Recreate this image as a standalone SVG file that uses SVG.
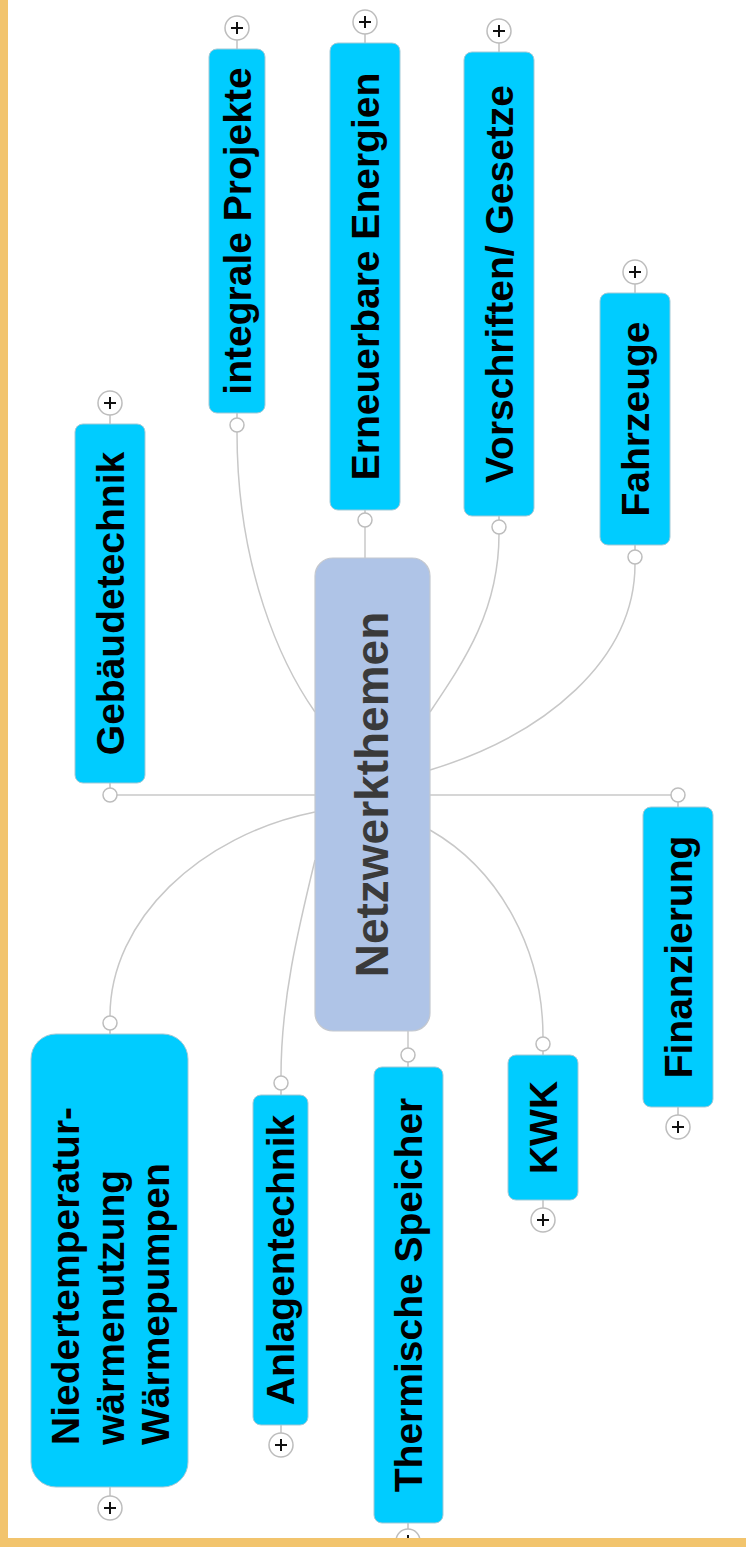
<svg xmlns="http://www.w3.org/2000/svg" xmlns:xlink="http://www.w3.org/1999/xlink" width="746" height="1547" viewBox="0 0 746 1547">
<style>
.box{fill:#00CCFF;stroke:#a3c9d6;stroke-width:1}
.center{fill:#AFC4E7;stroke:#c4c8cf;stroke-width:1.2}
.lbl{font-family:"Liberation Sans",Arial,sans-serif;font-weight:bold;font-size:39px;fill:#000}
.clbl{font-family:"Liberation Sans",Arial,sans-serif;font-weight:bold;font-size:46px;fill:#3a3a3a}
.conn path{fill:none;stroke:#c8c8c8;stroke-width:1.5}
.stem{stroke:#c0c0c0;stroke-width:1.5}
.dot{fill:#fff;stroke:#bdbdbd;stroke-width:1.5}
.pc{fill:#fff;stroke:#bdbdbd;stroke-width:1.5}
.pp{stroke:#111;stroke-width:2;fill:none}
</style>
<defs>
<g id="plus"><circle class="pc" r="12"/><path class="pp" d="M-6,0H6M0,-6V6"/></g>
</defs>
<rect x="0" y="0" width="746" height="1547" fill="#fff"/>
<g id="connectors" class="conn">
<path d="M117,795 H315"/>
<path d="M430,795 H671"/>
<path d="M365,527 V558"/>
<path d="M408,1031 V1048"/>
<path d="M315,712 C282,665 237,570 237,432"/>
<path d="M430,712 C465,660 499,610 499,534"/>
<path d="M430,770 C545,735 635,660 635,564"/>
<path d="M430,830 C500,870 543,950 543,1037"/>
<path d="M315,860 C298,930 281,1000 281,1076"/>
<path d="M315,812 C200,835 110,920 110,1016"/>
</g>
<g id="node-center">
<rect class="center" x="315" y="558" width="115" height="473" rx="18"/>
<text class="clbl" transform="translate(372,794.5) rotate(-90)" text-anchor="middle" dy="0.35em">Netzwerkthemen</text>
</g>
<g id="node-gebaeudetechnik">
<line class="stem" x1="110" y1="415" x2="110" y2="424"/>
<line class="stem" x1="110" y1="783" x2="110" y2="788"/>
<rect class="box" x="75" y="424" width="70" height="359" rx="8"/>
<text class="lbl" transform="translate(110,603.5) rotate(-90)" text-anchor="middle" dy="0.35em">Gebäudetechnik</text>
<use xlink:href="#plus" x="110" y="403"/>
<circle class="dot" cx="110" cy="795" r="7"/>
</g>
<g id="node-integrale">
<line class="stem" x1="237" y1="40" x2="237" y2="49"/>
<line class="stem" x1="237" y1="413" x2="237" y2="418"/>
<rect class="box" x="209" y="49" width="56" height="364" rx="8"/>
<text class="lbl" transform="translate(237,231) rotate(-90)" text-anchor="middle" dy="0.35em">integrale Projekte</text>
<use xlink:href="#plus" x="237" y="28"/>
<circle class="dot" cx="237" cy="425" r="7"/>
</g>
<g id="node-erneuerbare">
<line class="stem" x1="365" y1="34" x2="365" y2="43"/>
<line class="stem" x1="365" y1="510" x2="365" y2="513"/>
<rect class="box" x="330" y="43" width="70" height="467" rx="8"/>
<text class="lbl" transform="translate(365,276.5) rotate(-90)" text-anchor="middle" dy="0.35em">Erneuerbare Energien</text>
<use xlink:href="#plus" x="365" y="22"/>
<circle class="dot" cx="365" cy="520" r="7"/>
</g>
<g id="node-vorschriften">
<line class="stem" x1="499" y1="43" x2="499" y2="52"/>
<line class="stem" x1="499" y1="516" x2="499" y2="520"/>
<rect class="box" x="464" y="52" width="70" height="464" rx="8"/>
<text class="lbl" transform="translate(499,284) rotate(-90)" text-anchor="middle" dy="0.35em">Vorschriften/ Gesetze</text>
<use xlink:href="#plus" x="499" y="31"/>
<circle class="dot" cx="499" cy="527" r="7"/>
</g>
<g id="node-fahrzeuge">
<line class="stem" x1="635" y1="284" x2="635" y2="293"/>
<line class="stem" x1="635" y1="545" x2="635" y2="550"/>
<rect class="box" x="600" y="293" width="70" height="252" rx="8"/>
<text class="lbl" transform="translate(635,419) rotate(-90)" text-anchor="middle" dy="0.35em">Fahrzeuge</text>
<use xlink:href="#plus" x="635" y="272"/>
<circle class="dot" cx="635" cy="557" r="7"/>
</g>
<g id="node-finanzierung">
<line class="stem" x1="678" y1="802" x2="678" y2="807"/>
<line class="stem" x1="678" y1="1107" x2="678" y2="1115"/>
<rect class="box" x="643" y="807" width="70" height="300" rx="8"/>
<text class="lbl" transform="translate(678,957) rotate(-90)" text-anchor="middle" dy="0.35em">Finanzierung</text>
<circle class="dot" cx="678" cy="795" r="7"/>
<use xlink:href="#plus" x="678" y="1127"/>
</g>
<g id="node-kwk">
<line class="stem" x1="543" y1="1051" x2="543" y2="1055"/>
<line class="stem" x1="543" y1="1200" x2="543" y2="1208"/>
<rect class="box" x="508" y="1055" width="70" height="145" rx="8"/>
<text class="lbl" transform="translate(543,1127.5) rotate(-90)" text-anchor="middle" dy="0.35em">KWK</text>
<circle class="dot" cx="543" cy="1044" r="7"/>
<use xlink:href="#plus" x="543" y="1220"/>
</g>
<g id="node-thermische">
<line class="stem" x1="408" y1="1062" x2="408" y2="1067"/>
<line class="stem" x1="408" y1="1523" x2="408" y2="1529"/>
<rect class="box" x="374" y="1067" width="69" height="456" rx="8"/>
<text class="lbl" transform="translate(408.5,1295) rotate(-90)" text-anchor="middle" dy="0.35em">Thermische Speicher</text>
<circle class="dot" cx="408" cy="1055" r="7"/>
<use xlink:href="#plus" x="408" y="1541"/>
</g>
<g id="node-anlagentechnik">
<line class="stem" x1="281" y1="1090" x2="281" y2="1095"/>
<line class="stem" x1="281" y1="1425" x2="281" y2="1433"/>
<rect class="box" x="253" y="1095" width="55" height="330" rx="8"/>
<text class="lbl" transform="translate(280.5,1260) rotate(-90)" text-anchor="middle" dy="0.35em">Anlagentechnik</text>
<circle class="dot" cx="281" cy="1083" r="7"/>
<use xlink:href="#plus" x="281" y="1445"/>
</g>
<g id="node-niedertemperatur">
<line class="stem" x1="110" y1="1030" x2="110" y2="1034"/>
<line class="stem" x1="110" y1="1487" x2="110" y2="1496"/>
<rect class="box" x="31" y="1034" width="157" height="453" rx="25"/>
<text class="lbl" transform="translate(0,0) rotate(-90)">
<tspan x="-1445" y="79">Niedertemperatur-</tspan>
<tspan x="-1445" y="124">wärmenutzung</tspan>
<tspan x="-1445" y="169">Wärmepumpen</tspan>
</text>
<circle class="dot" cx="110" cy="1023" r="7"/>
<use xlink:href="#plus" x="110" y="1508"/>
</g>
<rect x="0" y="0" width="8" height="1547" fill="#F2C46D"/>
<rect x="0" y="1538" width="746" height="9" fill="#F2C46D"/>
</svg>
